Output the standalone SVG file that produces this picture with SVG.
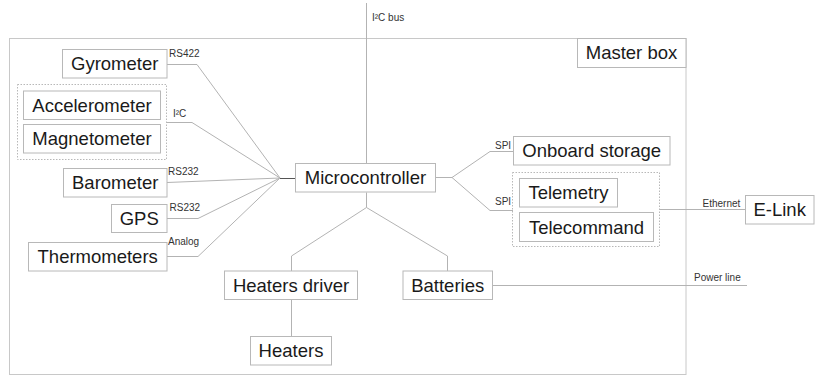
<svg xmlns="http://www.w3.org/2000/svg" width="815" height="376" viewBox="0 0 815 376">
<style>
.box{fill:#fff;stroke:#b8b8b8;stroke-width:1}
.grp{fill:none;stroke:#b8b8b8;stroke-width:1;stroke-dasharray:1.5 1.5}
.t{font-family:"Liberation Sans",Arial,sans-serif;font-size:18.5px;fill:#1a1a1a;text-anchor:middle}
.s{font-family:"Liberation Sans",Arial,sans-serif;font-size:10px;fill:#333}
.c{fill:none;stroke:#b3b3b3;stroke-width:1}
.d{fill:none;stroke:#555;stroke-width:1}
</style>
<rect width="815" height="376" fill="#fff"/>
<g id="master-box">
<rect x="9.5" y="38.5" width="676.5" height="336" fill="none" stroke="#c8c8c8"/>
<rect x="577.5" y="38.5" width="108.5" height="29" class="box"/>
<text x="631.5" y="59" class="t">Master box</text>
</g>
<g id="connectors">
<path class="c" d="M366.5 3V163.5"/>
<path class="c" d="M167 64.5H197L280 178"/>
<path class="c" d="M166.5 122.5H192L280 178"/>
<path class="c" d="M167 182.5L280 178"/>
<path class="c" d="M167 218.5H198L280 178"/>
<path class="c" d="M167 256.5H198L280 178"/>
<path class="d" d="M280 178.5H295.5"/>
<path class="c" d="M436 177.5H452L490 151.5H513"/>
<path class="c" d="M452 177.5L490 210.5H513"/>
<path class="c" d="M659.5 209.5H745.5"/>
<path class="c" d="M366.5 192.5V207.5L291.5 256V271"/>
<path class="c" d="M366.5 207.5L447.5 256V271"/>
<path class="c" d="M291.5 299.5V336.5"/>
<path class="c" d="M492.5 285.5H747"/>
</g>
<g id="labels">
<text x="372" y="21" class="s">I²C bus</text>
<text x="169" y="57" class="s">RS422</text>
<text x="173" y="117" class="s">I²C</text>
<text x="168" y="175" class="s">RS232</text>
<text x="169.5" y="211" class="s">RS232</text>
<text x="168" y="244.5" class="s">Analog</text>
<text x="495" y="148.5" class="s">SPI</text>
<text x="495" y="205" class="s">SPI</text>
<text x="702.5" y="206.5" class="s">Ethernet</text>
<text x="694" y="281" class="s">Power line</text>
</g>
<g id="gyrometer"><rect x="62.5" y="49.5" width="104.5" height="28.5" class="box"/><text x="114.7" y="70" class="t">Gyrometer</text></g>
<g id="imu-group"><rect x="17.5" y="84.5" width="149" height="75" class="grp"/></g>
<g id="accelerometer"><rect x="23.5" y="91" width="137" height="28.5" class="box"/><text x="92" y="111.5" class="t">Accelerometer</text></g>
<g id="magnetometer"><rect x="23.5" y="124.5" width="137" height="28.5" class="box"/><text x="92" y="145" class="t">Magnetometer</text></g>
<g id="barometer"><rect x="63.5" y="168.5" width="103.5" height="28.5" class="box"/><text x="115.2" y="189" class="t">Barometer</text></g>
<g id="gps"><rect x="111.5" y="204.5" width="55.5" height="28" class="box"/><text x="139.2" y="225" class="t">GPS</text></g>
<g id="thermometers"><rect x="28.5" y="242.5" width="138.5" height="28.5" class="box"/><text x="97.7" y="263" class="t">Thermometers</text></g>
<g id="microcontroller"><rect x="295.5" y="163.5" width="140" height="28.5" class="box"/><text x="365.5" y="184" class="t">Microcontroller</text></g>
<g id="onboard-storage"><rect x="513.5" y="136.5" width="156.5" height="28.5" class="box"/><text x="591.7" y="157" class="t">Onboard storage</text></g>
<g id="comm-group"><rect x="512.5" y="172.5" width="147" height="74" class="grp"/></g>
<g id="telemetry"><rect x="519.5" y="178.5" width="98" height="28.5" class="box"/><text x="568.5" y="199" class="t">Telemetry</text></g>
<g id="telecommand"><rect x="519.5" y="212.5" width="134" height="29" class="box"/><text x="586.5" y="233.5" class="t">Telecommand</text></g>
<g id="e-link"><rect x="745.5" y="195.5" width="68.5" height="28.5" class="box"/><text x="779.7" y="216" class="t">E-Link</text></g>
<g id="heaters-driver"><rect x="224.5" y="271" width="133" height="28.5" class="box"/><text x="291" y="291.5" class="t">Heaters driver</text></g>
<g id="batteries"><rect x="403" y="271" width="89.5" height="28.5" class="box"/><text x="447.7" y="291.5" class="t">Batteries</text></g>
<g id="heaters"><rect x="250.5" y="336.5" width="81" height="28.5" class="box"/><text x="291" y="357" class="t">Heaters</text></g>
</svg>
